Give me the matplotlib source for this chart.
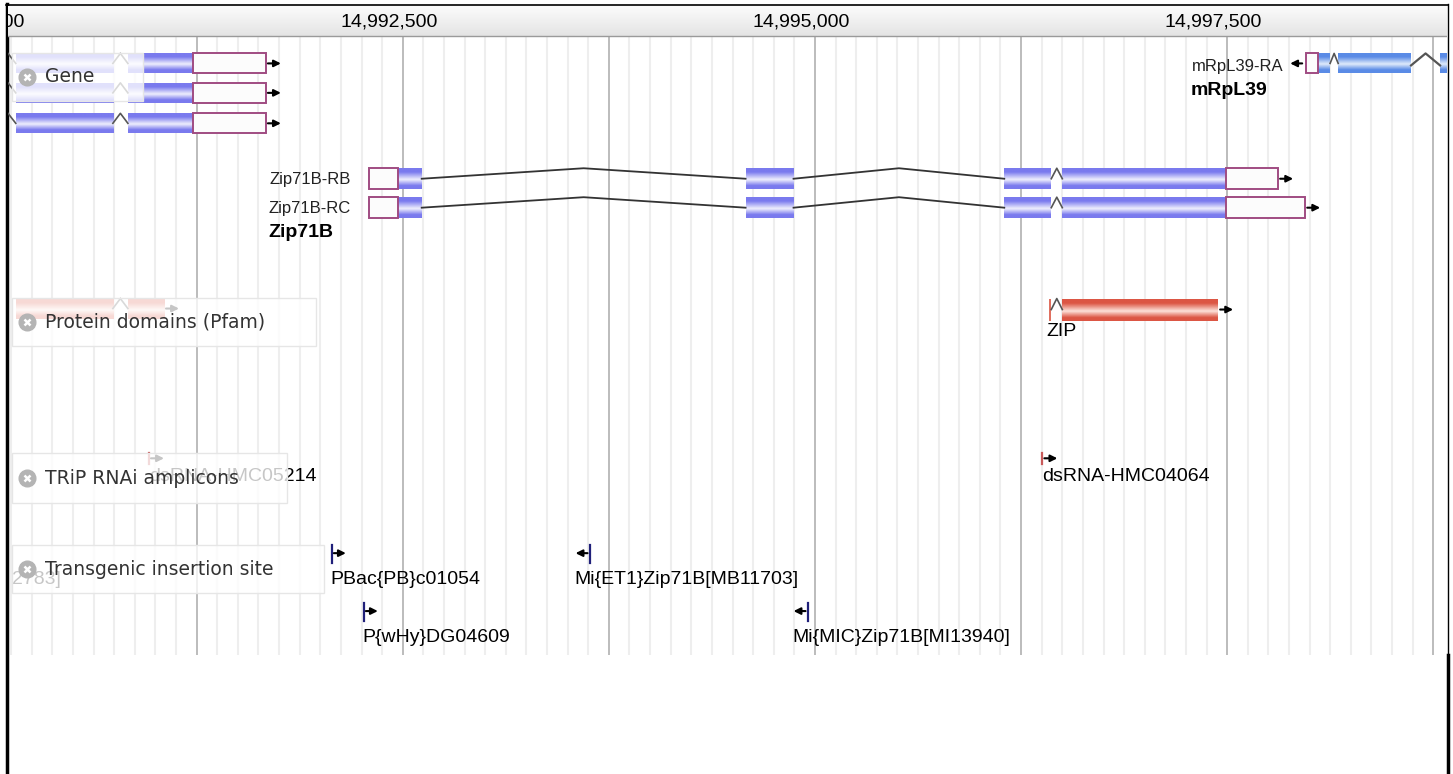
import numpy as np
import matplotlib.pyplot as plt
from matplotlib.colors import LinearSegmentedColormap
from matplotlib.patches import Rectangle

# visible region and ruler
view_start = 14990106
view_end = 14998833
ruler_ticks = [14990000, 14992500, 14995000, 14997500]
grid_step = 125
major_step = 1250

# Gene track: unnamed gene on the left (three transcripts, cut off on the left)
left_cds = [(14990153, 14990742), (14990833, 14991227)]
left_utr = (14991227, 14991670)

# Zip71B transcripts
zip_names = ['Zip71B-RB', 'Zip71B-RC']
zip_utr5 = (14992294, 14992470)
zip_cds = [(14992470, 14992615), (14994579, 14994870),
           (14996148, 14996433), (14996500, 14997494)]
zip_utr3_end = [14997809, 14997973]

# mRpL39 (minus strand, runs out of view on the right)
mrpl_utr = (14997979, 14998052)
mrpl_cds = [(14998052, 14998124), (14998173, 14998615), (14998791, 14999300)]

# Protein domains (Pfam)
pfam_parts = [(14996418, 14996433), (14996500, 14997445)]
pfam_faded = [(14990153, 14990742), (14990833, 14991052)]

# TRiP RNAi amplicons
rnai_names = ['dsRNA-HMC05214', 'dsRNA-HMC04064']
rnai_pos = [14990961, 14996379]

# Transgenic insertion sites
ins_names = ['PBac{PB}c01054', 'P{wHy}DG04609',
             'Mi{ET1}Zip71B[MB11703]', 'Mi{MIC}Zip71B[MI13940]']
ins_pos = [14992070, 14992264, 14993633, 14994955]
ins_strand = [1, 1, -1, -1]
ins_row = [0, 1, 0, 1]

W, H = 1453, 774
fig = plt.figure(figsize=(W / 100, H / 100), dpi=100)

# frame around the browser view
bg = fig.add_axes([0, 0, 1, 1])
bg.set_xlim(0, W)
bg.set_ylim(H, 0)
bg.axis('off')
bg.plot([6.5, 6.5], [4, H], color='black', lw=2.5)
bg.plot([6, 1448], [5, 5], color='black', lw=1.2)
bg.plot([1448, 1448], [4, 655], color='black', lw=1.0)
bg.plot([1447.5, 1447.5], [655, H], color='black', lw=2.5)

ax = fig.add_axes([8 / W, 1 - 655 / H, 1439 / W, 649 / H])
ax.axis('off')
bpx = (view_end - view_start) / 1439  # bp per pixel

sans = ['Liberation Sans', 'DejaVu Sans']


def grad_box(x0, x1, yc, h, edge, mid, z=2):
    cmap = LinearSegmentedColormap.from_list(
        'g', [(0, edge), (0.18, edge), (0.55, mid), (0.85, edge), (1, edge)])
    g = np.linspace(0, 1, 40).reshape(-1, 1)
    ax.imshow(g, cmap=cmap, extent=[x0, x1, yc + h / 2, yc - h / 2],
              aspect='auto', interpolation='bilinear', zorder=z)


def utr_box(x0, x1, yc, h):
    ax.add_patch(Rectangle((x0, yc - h / 2), x1 - x0, h, facecolor='#fcfcfc',
                           edgecolor='#a04c82', lw=1.4, zorder=3))


def chevron(x0, x1, yc, h, color='#555555'):
    ax.plot([x0, (x0 + x1) / 2, x1], [yc, yc - h / 2, yc], color=color, lw=1.2, zorder=3)


def arrow(x, yc, direction=1, length=13):
    ax.annotate('', xy=(x + direction * length * bpx, yc), xytext=(x, yc),
                arrowprops=dict(arrowstyle='-|>', color='black', lw=1.5,
                                mutation_scale=10, shrinkA=0, shrinkB=0),
                zorder=4)


# ruler
rg = np.linspace(0, 1, 30).reshape(-1, 1)
ax.imshow(rg, cmap=LinearSegmentedColormap.from_list('r', ['#fbfbfb', '#e4e4e4']),
          extent=[view_start, view_end, 35, 5], aspect='auto', zorder=1)
ax.plot([view_start, view_end], [35, 35], color='#9a9a9a', lw=1.0, zorder=2)
for t in ruler_ticks:
    ax.text(t - 85, 21, f'{t:,}', ha='center', va='center', fontsize=14,
            family=sans, zorder=3, clip_on=True)

# grid
g0 = (view_start // grid_step + 1) * grid_step
for x in range(g0, view_end, grid_step):
    if x % major_step == 0:
        ax.plot([x, x], [35, 655], color='#a9a9a9', lw=1.1, zorder=0.5)
    else:
        ax.plot([x, x], [35, 655], color='#eeeeee', lw=1.5, zorder=0.4)

PURPLE_E, PURPLE_M = '#7a7aee', '#efeffd'
BLUE_E, BLUE_M = '#5a8be6', '#e0ebfb'
RED_E, RED_M = '#dc5644', '#fde2da'

# Gene track: left gene, three rows
for yc in [62.5, 92, 122.5]:
    ax.plot([view_start, left_cds[0][0]], [yc - 10, yc], color='#555555', lw=1.2, zorder=3)
    for a, b in left_cds:
        grad_box(a, b, yc, 20, PURPLE_E, PURPLE_M)
    chevron(left_cds[0][1], left_cds[1][0], yc, 20)
    utr_box(left_utr[0], left_utr[1], yc, 20)
    arrow(left_utr[1] + 2 * bpx, yc)

# Zip71B
for i, (name, yc) in enumerate(zip(zip_names, [178, 207])):
    h = 21
    utr_box(zip_utr5[0], zip_utr5[1], yc, h)
    for a, b in zip_cds:
        grad_box(a, b, yc, h, PURPLE_E, PURPLE_M)
    for (a0, a1), (b0, b1) in zip(zip_cds[:-2], zip_cds[1:-1]):
        ax.plot([a1, (a1 + b0) / 2, b0], [yc, yc - h / 2, yc], color='#333333', lw=1.3, zorder=2.5)
    chevron(zip_cds[2][1], zip_cds[3][0], yc, h)
    utr_box(zip_cds[3][1], zip_utr3_end[i], yc, h)
    arrow(zip_utr3_end[i] + 2 * bpx, yc)
    ax.text(zip_utr5[0] - 18 * bpx, yc + 1, name, ha='right', va='center',
            fontsize=12, family=sans, color='#222222', zorder=4)
ax.text(zip_utr5[0] - 100 * bpx, 232, 'Zip71B', ha='left', va='center', fontsize=14,
        fontweight='bold', family=sans, zorder=4)

# mRpL39
yc = 62.5
arrow(mrpl_utr[0] - 4 * bpx, yc, direction=-1, length=12)
utr_box(mrpl_utr[0], mrpl_utr[1], yc, 20)
for a, b in mrpl_cds:
    grad_box(a, b, yc, 20, BLUE_E, BLUE_M)
chevron(mrpl_cds[0][1], mrpl_cds[1][0], yc, 20)
ax.plot([mrpl_cds[1][1], (mrpl_cds[1][1] + mrpl_cds[2][0]) / 2, mrpl_cds[2][0]],
        [yc + 2, yc - 10, yc + 2], color='#555555', lw=1.6, zorder=3)
ax.text(mrpl_utr[0] - 23 * bpx, yc + 3, 'mRpL39-RA', ha='right', va='center',
        fontsize=12, family=sans, color='#222222', zorder=4)
ax.text(mrpl_utr[0] - 116 * bpx, 90, 'mRpL39', ha='left', va='center', fontsize=14,
        fontweight='bold', family=sans, zorder=4)

# Pfam
yc = 309
for a, b in pfam_faded:
    grad_box(a, b, yc - 1, 20, RED_E, RED_M)
chevron(pfam_faded[0][1], pfam_faded[1][0], yc - 1, 20)
arrow(pfam_faded[1][1] + 2 * bpx, yc - 1)
ax.add_patch(Rectangle((pfam_parts[0][0], yc - 11), pfam_parts[0][1] - pfam_parts[0][0], 22,
                       facecolor='#e07060', edgecolor='none', zorder=3))
chevron(pfam_parts[0][1], pfam_parts[1][0], yc, 22)
grad_box(pfam_parts[1][0], pfam_parts[1][1], yc, 22, RED_E, RED_M)
arrow(pfam_parts[1][1] + 2 * bpx, yc)
ax.text(pfam_parts[0][0] - 2 * bpx, 331, 'ZIP', ha='left', va='center', fontsize=14,
        family=sans, zorder=4)

# TRiP RNAi amplicons
for name, p in zip(rnai_names, rnai_pos):
    ax.plot([p, p], [453, 464], color='#c85a5a', lw=1.6, zorder=3)
    arrow(p + 2 * bpx, 458, length=13)
    ax.text(p, 476, name, ha='left', va='center', fontsize=14, family=sans, zorder=4)

# Transgenic insertion sites
ax.text(14990427, 579, '2783]', ha='right', va='center', fontsize=14, family=sans,
        zorder=4, clip_on=True)
for name, p, s, r in zip(ins_names, ins_pos, ins_strand, ins_row):
    top = 545 + 58 * r
    ax.plot([p, p], [top, top + 18], color='#20207a', lw=1.6, zorder=3)
    if s > 0:
        arrow(p + 2 * bpx, top + 8, 1, 12)
        x_text = p - 1 * bpx
    else:
        arrow(p - 2 * bpx, top + 8, -1, 12)
        x_text = p - 15 * bpx
    ax.text(x_text, top + 34, name, ha='left', va='center', fontsize=14, family=sans, zorder=4)

# track label boxes
labels = [('Gene', 52, 100, 143), ('Protein domains (Pfam)', 297, 346, 316),
          ('TRiP RNAi amplicons', 453, 503, 287), ('Transgenic insertion site', 545, 593, 324)]
for name, y0, y1, xr in labels:
    x0 = view_start + 4 * bpx
    x1 = view_start + (xr - 8) * bpx
    ax.add_patch(Rectangle((x0, y0), x1 - x0, y1 - y0, facecolor='white', alpha=0.78,
                           edgecolor='none', zorder=6))
    ax.add_patch(Rectangle((x0, y0), x1 - x0, y1 - y0, facecolor='none',
                           edgecolor='#e6e6e6', lw=1.0, zorder=6.1))
    ym = (y0 + y1) / 2
    ax.plot(view_start + 19 * bpx, ym, 'o', color='#b4b4b4', markersize=12, zorder=7)
    ax.plot(view_start + 19 * bpx, ym, 'x', color='white', markersize=5, mew=1.8, zorder=8)
    ax.text(view_start + 37 * bpx, ym, name, ha='left', va='center', fontsize=13.5,
            family='DejaVu Sans', color='#333333', zorder=8)

ax.set_xlim(view_start, view_end)
ax.set_ylim(655, 5)
fig.savefig('out.png', dpi=100)
